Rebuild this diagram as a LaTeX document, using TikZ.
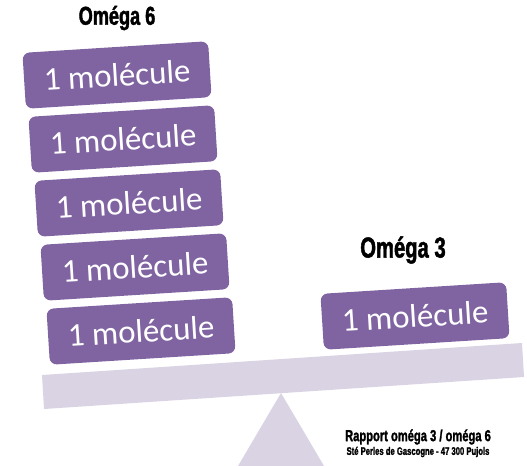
\documentclass[tikz,border=0pt]{standalone}
\usepackage{fontspec}
\setmainfont{Carlito}
\newfontfamily\headfont[FakeStretch=0.7, BoldFeatures={FakeBold=1.6}]{Liberation Sans}
\definecolor{molFill}{RGB}{128,100,162}
\definecolor{scaleGrey}{RGB}{217,211,227}
\tikzset{
  Mol/.style   = {fill=molFill, rounded corners=7bp, minimum width=186bp,
                  minimum height=56bp, inner sep=0pt, rotate=3.6,
                  text=white, font=\fontsize{33}{36}\selectfont},
  Head/.style  = {font=\headfont\bfseries\fontsize{26}{28}\selectfont},
  Note/.style  = {font=\headfont\bfseries\fontsize{16}{18}\selectfont, inner sep=0pt},
  Small/.style = {font=\headfont\bfseries\fontsize{11}{12}\selectfont, inner sep=0pt},
}

\begin{document}
\begin{tikzpicture}[x=1bp, y=-1bp]
\useasboundingbox (0,0) rectangle (527,466);

% ======================= the scale =======================================
\fill[scaleGrey] (281,393) -- (238,466) -- (324,466) -- cycle;
\fill[scaleGrey] (42,375) -- (522,343) -- (524,377) -- (44,409) -- cycle;

% ======================= omega 6, heavy side =============================
\node[Head] (om6) at (117,18) {Oméga 6};
\foreach \k in {1,...,5}
    \node[Mol] (mol\k) at (111+6*\k, 11+64*\k) {1 molécule};

% ======================= omega 3, light side =============================
\node[Head, font=\headfont\bfseries\fontsize{29}{30}\selectfont] (om3) at (403,250) {Oméga 3};
\node[Mol] (molR) at (415,316) {1 molécule};

% ======================= caption =========================================
\node[Note]  (rap) at (418,437) {Rapport oméga 3 / oméga 6};
\node[Small] (ste) at (418,452) {Sté Perles de Gascogne - 47 300 Pujols};

\end{tikzpicture}
\end{document}
